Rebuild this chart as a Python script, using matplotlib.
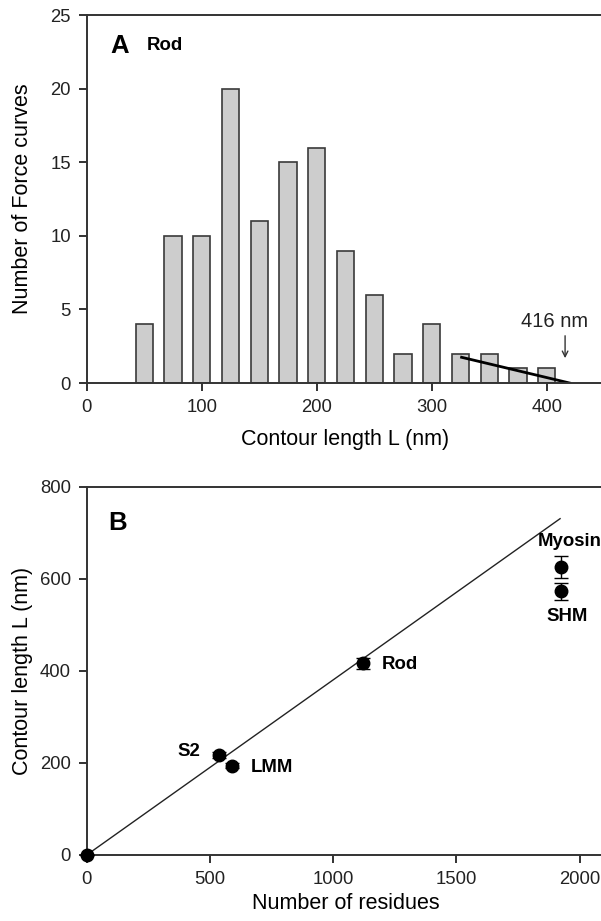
import matplotlib
matplotlib.use("Agg")
import matplotlib.pyplot as plt
import numpy as np

plt.rcParams['font.family'] = ['Liberation Sans', 'DejaVu Sans']

# panel A: histogram of contour lengths (Rod)
bin_centers = [50, 75, 100, 125, 150, 175, 200, 225, 250, 275, 300, 325, 350, 375, 400]
counts = [4, 10, 10, 20, 11, 15, 16, 9, 6, 2, 4, 2, 2, 1, 1]
tail_x = [326, 420]
tail_y = [1.75, 0.0]

# panel B: contour length vs number of residues
names = ['origin', 'S2', 'LMM', 'Rod', 'Myosin', 'SHM']
residues = [0, 538, 589, 1121, 1924, 1924]
contour = [0, 217, 194, 417, 626, 573]
contour_err = [0, 6, 5, 12, 24, 19]
fit_x = [0, 1921]
fit_y = [0, 731]

fig = plt.figure(figsize=(6.01, 9.21), dpi=100)

#%% panel A
ax1 = fig.add_axes([0.1443, 0.5841, 0.861, 0.3996])
ax1.bar(bin_centers, counts, width=15, color='#cdcdcd', edgecolor='#3a3a3a', linewidth=1.2)
ax1.plot(tail_x, tail_y, color='black', lw=2)
ax1.annotate('', xy=(416, 1.5), xytext=(416, 3.4),
             arrowprops=dict(arrowstyle='->', color='#333333', lw=1))
ax1.text(407, 4.2, '416 nm', ha='center', va='center', fontsize=14.5, color='#222222')
ax1.text(0.045, 0.916, 'A', transform=ax1.transAxes, fontsize=18.5, fontweight='bold', va='center')
ax1.text(0.116, 0.916, 'Rod', transform=ax1.transAxes, fontsize=13.4, fontweight='bold', va='center')
ax1.set_xlim(0, 450)
ax1.set_ylim(0, 25)
ax1.set_xticks([0, 100, 200, 300, 400])
ax1.set_yticks([0, 5, 10, 15, 20, 25])
ax1.set_xlabel('Contour length L (nm)', fontsize=15.5, labelpad=9)
ax1.set_ylabel('Number of Force curves', fontsize=15.5, labelpad=12)

#%% panel B
ax2 = fig.add_axes([0.1443, 0.0717, 0.861, 0.3996])
ax2.plot(fit_x, fit_y, color='#222222', lw=1)
ax2.errorbar(residues, contour, yerr=contour_err, fmt='o', color='black',
             markersize=9, capsize=5, elinewidth=1, clip_on=False, zorder=5)
lab_pos = {'S2': (463, 225, 'right'), 'LMM': (664, 191, 'left'), 'Rod': (1199, 413, 'left'),
           'Myosin': (1829, 681, 'left'), 'SHM': (1948, 518, 'center')}
for n in names[1:]:
    x, y, ha = lab_pos[n]
    ax2.text(x, y, n, ha=ha, va='center', fontsize=13.4, fontweight='bold')
ax2.text(0.041, 0.903, 'B', transform=ax2.transAxes, fontsize=18.5, fontweight='bold', va='center')
ax2.set_xlim(0, 2100)
ax2.set_ylim(0, 800)
ax2.set_xticks([0, 500, 1000, 1500, 2000])
ax2.set_yticks([0, 200, 400, 600, 800])
ax2.set_xlabel('Number of residues', fontsize=15.5, labelpad=4)
ax2.set_ylabel('Contour length L (nm)', fontsize=15.5, labelpad=5)

for ax in (ax1, ax2):
    ax.spines['right'].set_visible(False)
    for s in ('left', 'bottom', 'top'):
        ax.spines[s].set_linewidth(1.4)
        ax.spines[s].set_color('#333333')
    ax.tick_params(direction='out', length=6, width=1.3, pad=5.5, labelsize=13.3, colors='#222222')

fig.savefig('out.png', dpi=100)
